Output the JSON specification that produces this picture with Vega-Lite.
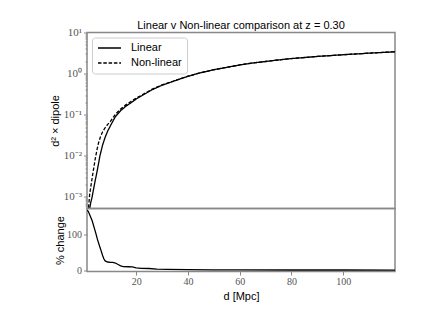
{
  "$schema": "https://vega.github.io/schema/vega-lite/v6.json",
  "padding": {"left": 48, "top": 18.5, "right": 5, "bottom": 5},
  "background": "white",
  "spacing": 0,
  "bounds": "flush",
  "datasets": {
    "curves": [
      {"d": 1.5, "value": 0.00025, "series": "Linear"},
      {"d": 2, "value": 0.0005, "series": "Linear"},
      {"d": 2.5, "value": 0.00075, "series": "Linear"},
      {"d": 3, "value": 0.001, "series": "Linear"},
      {"d": 3.5, "value": 0.0015, "series": "Linear"},
      {"d": 4, "value": 0.0022, "series": "Linear"},
      {"d": 5, "value": 0.0045, "series": "Linear"},
      {"d": 6, "value": 0.01, "series": "Linear"},
      {"d": 7, "value": 0.018, "series": "Linear"},
      {"d": 8, "value": 0.028, "series": "Linear"},
      {"d": 9, "value": 0.04, "series": "Linear"},
      {"d": 10, "value": 0.053, "series": "Linear"},
      {"d": 12, "value": 0.09, "series": "Linear"},
      {"d": 14, "value": 0.125, "series": "Linear"},
      {"d": 16, "value": 0.16, "series": "Linear"},
      {"d": 18, "value": 0.195, "series": "Linear"},
      {"d": 20, "value": 0.24, "series": "Linear"},
      {"d": 23, "value": 0.31, "series": "Linear"},
      {"d": 26, "value": 0.4, "series": "Linear"},
      {"d": 30, "value": 0.52, "series": "Linear"},
      {"d": 35, "value": 0.67, "series": "Linear"},
      {"d": 40, "value": 0.86, "series": "Linear"},
      {"d": 45, "value": 1.05, "series": "Linear"},
      {"d": 50, "value": 1.24, "series": "Linear"},
      {"d": 55, "value": 1.42, "series": "Linear"},
      {"d": 60, "value": 1.62, "series": "Linear"},
      {"d": 65, "value": 1.81, "series": "Linear"},
      {"d": 70, "value": 1.97, "series": "Linear"},
      {"d": 78, "value": 2.26, "series": "Linear"},
      {"d": 85, "value": 2.46, "series": "Linear"},
      {"d": 90, "value": 2.61, "series": "Linear"},
      {"d": 100, "value": 2.88, "series": "Linear"},
      {"d": 110, "value": 3.14, "series": "Linear"},
      {"d": 120, "value": 3.4, "series": "Linear"},
      {"d": 1.3, "value": 0.0003, "series": "Non-linear"},
      {"d": 1.7, "value": 0.00065, "series": "Non-linear"},
      {"d": 2, "value": 0.0011, "series": "Non-linear"},
      {"d": 2.5, "value": 0.0018, "series": "Non-linear"},
      {"d": 3, "value": 0.0029, "series": "Non-linear"},
      {"d": 3.6, "value": 0.005, "series": "Non-linear"},
      {"d": 4.2, "value": 0.0085, "series": "Non-linear"},
      {"d": 4.9, "value": 0.0145, "series": "Non-linear"},
      {"d": 5.5, "value": 0.021, "series": "Non-linear"},
      {"d": 6.2, "value": 0.029, "series": "Non-linear"},
      {"d": 7, "value": 0.038, "series": "Non-linear"},
      {"d": 8, "value": 0.048, "series": "Non-linear"},
      {"d": 9, "value": 0.058, "series": "Non-linear"},
      {"d": 10, "value": 0.068, "series": "Non-linear"},
      {"d": 12, "value": 0.103, "series": "Non-linear"},
      {"d": 14, "value": 0.138, "series": "Non-linear"},
      {"d": 16, "value": 0.173, "series": "Non-linear"},
      {"d": 18, "value": 0.21, "series": "Non-linear"},
      {"d": 20, "value": 0.252, "series": "Non-linear"},
      {"d": 23, "value": 0.322, "series": "Non-linear"},
      {"d": 26, "value": 0.412, "series": "Non-linear"},
      {"d": 30, "value": 0.53, "series": "Non-linear"},
      {"d": 35, "value": 0.677, "series": "Non-linear"},
      {"d": 40, "value": 0.865, "series": "Non-linear"},
      {"d": 45, "value": 1.053, "series": "Non-linear"},
      {"d": 50, "value": 1.242, "series": "Non-linear"},
      {"d": 55, "value": 1.421, "series": "Non-linear"},
      {"d": 60, "value": 1.621, "series": "Non-linear"},
      {"d": 65, "value": 1.81, "series": "Non-linear"},
      {"d": 70, "value": 1.97, "series": "Non-linear"},
      {"d": 78, "value": 2.26, "series": "Non-linear"},
      {"d": 85, "value": 2.46, "series": "Non-linear"},
      {"d": 90, "value": 2.61, "series": "Non-linear"},
      {"d": 100, "value": 2.88, "series": "Non-linear"},
      {"d": 110, "value": 3.14, "series": "Non-linear"},
      {"d": 120, "value": 3.4, "series": "Non-linear"}
    ],
    "pct": [
      {"d": 1, "pct": 170},
      {"d": 1.5, "pct": 167},
      {"d": 2, "pct": 158},
      {"d": 3, "pct": 140},
      {"d": 4, "pct": 115},
      {"d": 4.5, "pct": 102},
      {"d": 5, "pct": 88},
      {"d": 6, "pct": 65},
      {"d": 6.5, "pct": 54},
      {"d": 7, "pct": 42},
      {"d": 7.5, "pct": 32},
      {"d": 8, "pct": 26},
      {"d": 9, "pct": 23},
      {"d": 10, "pct": 22},
      {"d": 11, "pct": 22},
      {"d": 12, "pct": 20},
      {"d": 13, "pct": 16},
      {"d": 14, "pct": 12},
      {"d": 15, "pct": 10},
      {"d": 17, "pct": 9.5},
      {"d": 18.5, "pct": 9},
      {"d": 20, "pct": 6.5},
      {"d": 22, "pct": 5},
      {"d": 25, "pct": 4.5},
      {"d": 28, "pct": 3},
      {"d": 32, "pct": 2},
      {"d": 40, "pct": 1.2},
      {"d": 50, "pct": 0.8},
      {"d": 60, "pct": 0.5},
      {"d": 80, "pct": 0.3},
      {"d": 100, "pct": 0.2},
      {"d": 120, "pct": 0.1}
    ]
  },
  "vconcat": [
    {
      "title": {"text": "Linear v Non-linear comparison at z = 0.30", "font": "Liberation Sans", "fontSize": 11, "fontWeight": "normal", "color": "black", "frame": "group", "anchor": "middle", "offset": -4.5},
      "width": 308,
      "height": 176,
      "data": {"name": "curves"},
      "mark": {"type": "line", "clip": true, "color": "black", "strokeWidth": 1.3},
      "encoding": {
        "x": {"field": "d", "type": "quantitative", "scale": {"domain": [1, 120], "nice": false, "zero": false}, "axis": null},
        "y": {
          "field": "value", "type": "quantitative",
          "scale": {"type": "log", "domain": [0.00052, 10], "nice": false},
          "title": "d² × dipole",
          "axis": {
            "values": [0.0006, 0.0007, 0.0008, 0.0009, 0.001, 0.002, 0.003, 0.004, 0.005, 0.006, 0.007, 0.008, 0.009, 0.01, 0.02, 0.03, 0.04, 0.05, 0.06, 0.07, 0.08, 0.09, 0.1, 0.2, 0.3, 0.4, 0.5, 0.6, 0.7, 0.8, 0.9, 1, 2, 3, 4, 5, 6, 7, 8, 9, 10],
            "labelExpr": "datum.value==10?'10¹':datum.value==1?'10⁰':datum.value==0.1?'10⁻¹':datum.value==0.01?'10⁻²':datum.value==0.001?'10⁻³':''",
            "tickSize": {"condition": {"test": "datum.value==10||datum.value==1||datum.value==0.1||datum.value==0.01||datum.value==0.001", "value": 3.5}, "value": 2},
            "labelFontSize": 11,
            "minExtent": 22, "maxExtent": 22, "titlePadding": 5
          }
        },
        "strokeDash": {
          "field": "series", "type": "nominal",
          "scale": {"domain": ["Linear", "Non-linear"], "range": [[1, 0], [3.5, 1.8]]},
          "legend": {"title": null, "orient": "top-left", "offset": 5}
        }
      }
    },
    {
      "width": 308,
      "height": 63,
      "data": {"name": "pct"},
      "mark": {"type": "line", "clip": true, "color": "black", "strokeWidth": 1.3},
      "encoding": {
        "x": {"field": "d", "type": "quantitative", "scale": {"domain": [1, 120], "nice": false, "zero": false}, "title": "d [Mpc]", "axis": {"values": [20, 40, 60, 80, 100], "titlePadding": 4, "labelPadding": 1}},
        "y": {"field": "pct", "type": "quantitative", "scale": {"domain": [-4, 175], "nice": false, "zero": false}, "title": "% change", "axis": {"values": [0, 100], "minExtent": 22, "maxExtent": 22, "titlePadding": 0}}
      }
    }
  ],
  "config": {
    "view": {"stroke": "#888", "strokeWidth": 1.5},
    "axis": {
      "grid": false, "domain": false,
      "tickColor": "#888", "tickSize": 3.5, "tickWidth": 1,
      "labelFont": "Liberation Serif", "labelFontSize": 10, "labelColor": "#555", "labelPadding": 2, "labelOverlap": false,
      "titleFont": "Liberation Sans", "titleFontSize": 11, "titleFontWeight": "normal", "titleColor": "black"
    },
    "legend": {
      "symbolType": "stroke", "symbolSize": 529, "symbolStrokeWidth": 1.3, "symbolStrokeColor": "black",
      "labelFont": "Liberation Sans", "labelFontSize": 11, "labelColor": "black", "labelOffset": 9,
      "clipHeight": 11, "rowPadding": 3, "padding": 5,
      "strokeColor": "#ccc", "fillColor": "white", "cornerRadius": 3
    }
  }
}
